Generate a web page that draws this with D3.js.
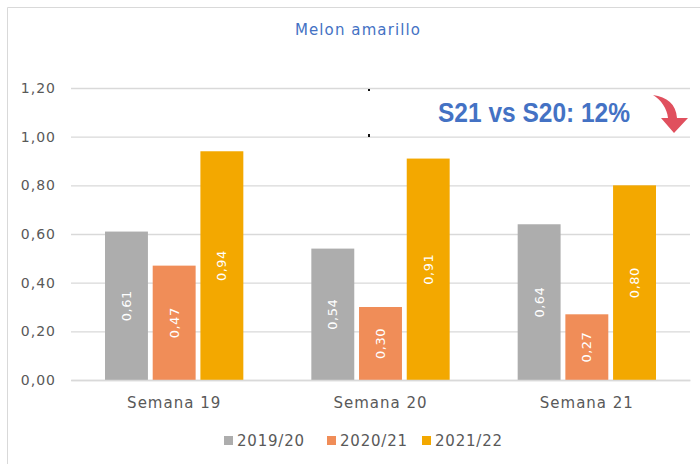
<!DOCTYPE html>
<html><head><meta charset="utf-8">
<script src="https://cdn.jsdelivr.net/npm/d3@7"></script>
<style>body{margin:0;background:#fff}svg{display:block}</style>
</head><body>
<svg id="c" width="700" height="464"></svg>
<script>
const categories = ["Semana 19", "Semana 20", "Semana 21"];
const seriesNames = ["2019/20", "2020/21", "2021/22"];
const s2019 = [0.61, 0.54, 0.64];
const s2020 = [0.47, 0.30, 0.27];
const s2021 = [0.94, 0.91, 0.80];
const yTicks = [0, 0.2, 0.4, 0.6, 0.8, 1.0, 1.2];
const colors = ["#ADADAD", "#F08D58", "#F3A800"];
const title = "Melon amarillo";
const note = "S21 vs S20: 12%";

(function () {
const series = [s2019, s2020, s2021];
const svg = d3.select("#c");
const font = "'DejaVu Sans', sans-serif";
const fmt = v => d3.format(".2f")(v).replace(".", ",");

// chart border
svg.append("path").attr("d", "M7.5,464 V7.5 H700").attr("fill", "none").attr("stroke", "#D9D9D9").attr("stroke-width", 1);

const pLeft = 71, pRight = 690, pTop = 88, pBottom = 380;
const x = d3.scaleBand().domain(categories).range([pLeft, pRight]);
const xi = d3.scaleBand().domain(seriesNames).range([34, x.bandwidth() - 34]).paddingInner(0.1);
const y = d3.scaleLinear().domain([0, 1.2]).range([pBottom, pTop]);

// gridlines
const yAxis = d3.axisLeft(y).tickValues(yTicks).tickFormat(fmt).tickSize(-(pRight - pLeft)).tickPadding(15);
const ga = svg.append("g").attr("transform", `translate(${pLeft},0)`).call(yAxis);
ga.select(".domain").remove();
ga.selectAll(".tick line").attr("stroke", "#D9D9D9").attr("stroke-width", 1.3);
ga.selectAll(".tick text").attr("fill", "#595959").attr("font-size", 14).attr("letter-spacing", 1).attr("font-family", font);

// bars
const g = svg.append("g");
categories.forEach((c, ci) => {
  seriesNames.forEach((s, si) => {
    const v = series[si][ci];
    const bx = x(c) + xi(s);
    g.append("rect").attr("x", bx).attr("y", y(v)).attr("width", xi.bandwidth()).attr("height", y(0) - y(v)).attr("fill", colors[si]);
    const cx = bx + xi.bandwidth() / 2, cy = (y(v) + y(0)) / 2;
    g.append("text").attr("transform", `translate(${cx},${cy}) rotate(-90)`)
      .attr("text-anchor", "middle").attr("dy", "0.35em")
      .attr("fill", "#fff").attr("font-size", 13).attr("letter-spacing", 0.5).attr("font-family", font).text(fmt(v));
  });
});

// x axis
const xAxis = d3.axisBottom(x).tickSize(0).tickPadding(17);
const gx = svg.append("g").attr("transform", `translate(0,${pBottom})`).call(xAxis);
gx.select(".domain").attr("stroke", "#D9D9D9").attr("stroke-width", 1.3);
gx.selectAll(".tick text").attr("fill", "#595959").attr("font-size", 15).attr("letter-spacing", 1).attr("font-family", font);

// title
svg.append("text").attr("x", 358).attr("y", 35).attr("text-anchor", "middle")
  .attr("fill", "#4472C4").attr("font-size", 15).attr("letter-spacing", 1.1).attr("font-family", font).text(title);

// annotation
svg.append("text").attr("x", 438).attr("y", 122).attr("fill", "#4472C4")
  .attr("font-size", 27).attr("font-weight", "bold").attr("font-family", "'Liberation Sans', sans-serif")
  .attr("textLength", 192).attr("lengthAdjust", "spacingAndGlyphs").text(note);

// arrow
svg.append("path")
  .attr("d", "M653,95 C667,97 676,104 677,118 L688,118 L674,133 L661,118 L668,118 C667,108 661,100 653,95 Z")
  .attr("fill", "#E0505E");

// stray dots
svg.append("rect").attr("x", 368).attr("y", 89).attr("width", 2).attr("height", 2).attr("fill", "#111");
svg.append("rect").attr("x", 368).attr("y", 134).attr("width", 2).attr("height", 3).attr("fill", "#111");

// legend
const legX = [224, 327, 422];
seriesNames.forEach((s, i) => {
  svg.append("rect").attr("x", legX[i]).attr("y", 436).attr("width", 9).attr("height", 9).attr("fill", colors[i]);
  svg.append("text").attr("x", legX[i] + 13).attr("y", 445.5).attr("fill", "#595959")
    .attr("font-size", 15).attr("letter-spacing", 0.8).attr("font-family", font).text(s);
});
})();
</script>
</body></html>
